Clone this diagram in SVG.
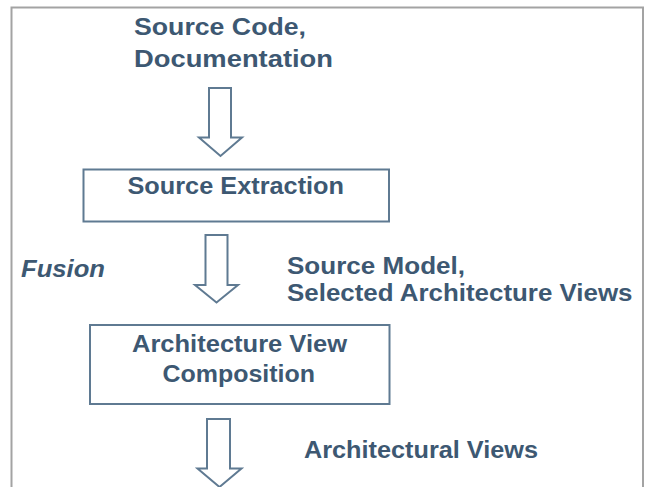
<svg xmlns="http://www.w3.org/2000/svg" width="645" height="487" viewBox="0 0 645 487">
<style>
.t{font-family:"Liberation Sans",Arial,sans-serif;font-weight:bold;font-size:23px;fill:#3d5872}
.box{fill:#fff;stroke:#5f7a92;stroke-width:2}
.arr{fill:#fff;stroke:#5f7a92;stroke-width:2;stroke-linejoin:miter}
</style>
<rect width="645" height="487" fill="#fff"/>
<path d="M11.5,490 V7.5 H643 V490" fill="none" stroke="#a3a3a3" stroke-width="2"/>
<g id="input-label">
<text class="t" x="134" y="35" textLength="172" lengthAdjust="spacingAndGlyphs">Source Code,</text>
<text class="t" x="134" y="66.5" textLength="199" lengthAdjust="spacingAndGlyphs">Documentation</text>
</g>
<g id="source-extraction">
<rect class="box" x="83.5" y="169.5" width="305.5" height="52"/>
<text class="t" x="127.5" y="194" textLength="216.5" lengthAdjust="spacingAndGlyphs">Source Extraction</text>
</g>
<g id="fusion-label">
<text class="t" x="21" y="276.5" font-style="italic" font-size="24" textLength="84" lengthAdjust="spacingAndGlyphs">Fusion</text>
</g>
<g id="model-label">
<text class="t" x="287" y="273.5" textLength="178" lengthAdjust="spacingAndGlyphs">Source Model,</text>
<text class="t" x="287" y="300.5" textLength="345.5" lengthAdjust="spacingAndGlyphs">Selected Architecture Views</text>
</g>
<g id="architecture-view-composition">
<rect class="box" x="90" y="325" width="299.5" height="79"/>
<text class="t" x="132" y="351.5" textLength="215" lengthAdjust="spacingAndGlyphs">Architecture View</text>
<text class="t" x="162.5" y="381.5" textLength="152.5" lengthAdjust="spacingAndGlyphs">Composition</text>
</g>
<g id="output-label">
<text class="t" x="304" y="458" textLength="234" lengthAdjust="spacingAndGlyphs">Architectural Views</text>
</g>
<g id="connectors">
<path class="arr" d="M209,88 H231 V137.5 H242 L220.5,156 L199,137.5 H209 Z"/>
<path class="arr" d="M205.5,235 H227.5 V285 H238 L216.5,302.5 L195,285 H205.5 Z"/>
<path class="arr" d="M207,419 H230 V468.5 H241.5 L219.5,487 L197.5,468.5 H207 Z"/>
</g>
</svg>
